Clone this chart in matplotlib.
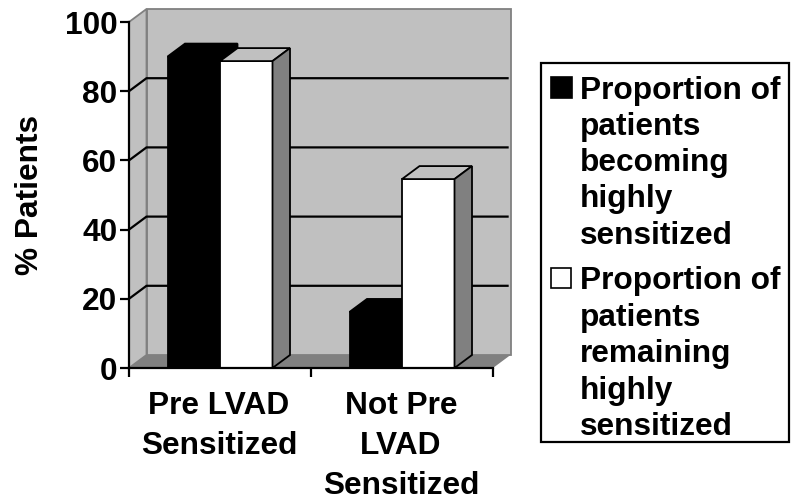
import numpy as np
import matplotlib
matplotlib.use("Agg")
import matplotlib.pyplot as plt
from matplotlib.patches import Polygon, Rectangle

plt.rcParams["font.family"] = ["Liberation Sans", "DejaVu Sans"]
plt.rcParams["font.weight"] = "bold"

categories = ["Pre LVAD\nSensitized", "Not Pre\nLVAD\nSensitized"]
becoming = [90, 16.2]
remaining = [88.7, 54.6]
yticks = [0, 20, 40, 60, 80, 100]
legend_becoming = ["Proportion of", "patients", "becoming", "highly", "sensitized"]
legend_remaining = ["Proportion of", "patients", "remaining", "highly", "sensitized"]

WALL = "#c0c0c0"
DARK = "#808080"
FS = 22.8

fig = plt.figure(figsize=(8, 5.04), dpi=100)
ax = fig.add_axes([129 / 800, 1 - 368 / 504, 364 / 800, 346 / 504])
ax.set_xlim(0, 2)
ax.set_ylim(0, 100)

# depth of the fake 3d box, in data units
ddx = 17.5 / 182
ddy = 13 / 3.46
width = 52.5 / 182
centers = np.arange(len(categories)) + 0.5


def poly(pts, face, edge="none", lw=0, z=1):
    ax.add_patch(Polygon(pts, closed=True, facecolor=face, edgecolor=edge,
                         linewidth=lw, zorder=z, clip_on=False, joinstyle="miter"))


# walls and floor
poly([(ddx, ddy), (2 + ddx, ddy), (2 + ddx, 100 + ddy), (ddx, 100 + ddy)], WALL, DARK, 1.3)
poly([(0, 0), (ddx, ddy), (ddx, 100 + ddy), (0, 100)], WALL, DARK, 1.3)
poly([(0, 0), (ddx, ddy), (2 + ddx, ddy), (2, 0)], DARK)

for t in yticks[1:-1]:
    ax.plot([0, ddx, 2 + ddx - 0.01], [t, t + ddy, t + ddy], color="black", lw=1.6,
            zorder=2, clip_on=False, solid_capstyle="butt")

# bars with top and side faces
for i, c in enumerate(centers):
    for x0, v, color, edge, top in [(c - width, becoming[i], "black", "black", "black"),
                                    (c, remaining[i], "white", "black", WALL)]:
        ax.bar(x0, v, width, align="edge", color=color, edgecolor="black", linewidth=1.3,
               zorder=3 + (color == "white"), clip_on=False)
        z = 3 + (color == "white")
        poly([(x0, v), (x0 + ddx, v + ddy), (x0 + width + ddx, v + ddy), (x0 + width, v)],
             top, edge, 1.3, z)
        poly([(x0 + width, 0), (x0 + width + ddx, ddy), (x0 + width + ddx, v + ddy), (x0 + width, v)],
             DARK if color == "white" else "black", edge, 1.3, z)

for s in ["top", "right"]:
    ax.spines[s].set_visible(False)
for s in ["left", "bottom"]:
    ax.spines[s].set_linewidth(1.6)
    ax.spines[s].set_zorder(6)
ax.set_facecolor("none")
ax.set_yticks(yticks)
ax.set_xticks([0, 1, 2], [])
ax.set_xticks(centers - 0.006, categories, minor=True)
ax.tick_params(axis="y", length=6.5, width=1.6, labelsize=FS, pad=2)
ax.tick_params(axis="x", which="major", length=6.5, width=1.6)
ax.tick_params(axis="x", which="minor", length=0, labelsize=FS, pad=16.5)
for lab in ax.get_xticklabels(minor=True):
    lab.set_linespacing(1.44)
ax.set_ylabel("% Patients", fontsize=FS, fontweight="bold", labelpad=14)

# legend box, placed in pixel coordinates
leg = fig.add_axes([0, 0, 1, 1])
leg.set_xlim(0, 800)
leg.set_ylim(504, 0)
leg.axis("off")
leg.add_patch(Rectangle((541, 63), 248, 379, facecolor="white", edgecolor="black", linewidth=1.6))
leg.add_patch(Rectangle((551, 77), 21, 21, facecolor="black", edgecolor="black", linewidth=1.2))
leg.add_patch(Rectangle((551, 268), 20, 20, facecolor="white", edgecolor="black", linewidth=1.2))
for y0, step, lines in [(88, 36.0, legend_becoming), (278, 36.4, legend_remaining)]:
    for k, line in enumerate(lines):
        leg.text(580, y0 + step * k, line, fontsize=FS, fontweight="bold", va="center_baseline", ha="left")

fig.savefig("out.png", dpi=100)
